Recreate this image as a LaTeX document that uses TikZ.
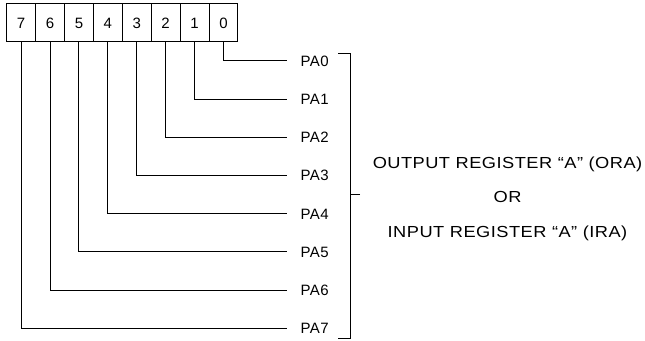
\documentclass[tikz,border=0pt]{standalone}
\usepackage{fontspec}
\setmainfont{Liberation Sans}[LetterSpace=3]
\newfontfamily\regfont{Liberation Sans}[LetterSpace=3, FakeStretch=1.14]
\usetikzlibrary{shapes,arrows}
\tikzstyle{bit} = [rectangle, draw, minimum width=28.9pt, minimum height=37.7pt,
    inner sep=0pt, text height=10.7pt, text depth=0pt, font=\fontsize{15}{17}\selectfont]
\tikzstyle{port} = [anchor=west, inner sep=2pt, text height=10.7pt, text depth=0pt,
    font=\fontsize{15}{17}\selectfont]
\tikzstyle{reg} = [inner sep=2pt, text height=11.5pt, text depth=3pt,
    font=\regfont\fontsize{16}{18}\selectfont]
\tikzstyle{line} = [draw]

\begin{document}
\begin{tikzpicture}[x=1pt, y=1pt, node distance=28.9pt, line width=1pt]
    \useasboundingbox (0,0) rectangle (645,340);
    % Place nodes
    \node [bit] (b7) at (21.15,317.15) {7};
    \node [bit, right of=b7] (b6) {6};
    \node [bit, right of=b6] (b5) {5};
    \node [bit, right of=b5] (b4) {4};
    \node [bit, right of=b4] (b3) {3};
    \node [bit, right of=b3] (b2) {2};
    \node [bit, right of=b2] (b1) {1};
    \node [bit, right of=b1] (b0) {0};
    \node [port] (pa0) at (298,279) {PA0};
    \node [port, below of=pa0, node distance=38.2pt] (pa1) {PA1};
    \node [port, below of=pa1, node distance=38.2pt] (pa2) {PA2};
    \node [port, below of=pa2, node distance=38.2pt] (pa3) {PA3};
    \node [port, below of=pa3, node distance=38.2pt] (pa4) {PA4};
    \node [port, below of=pa4, node distance=38.2pt] (pa5) {PA5};
    \node [port, below of=pa5, node distance=38.2pt] (pa6) {PA6};
    \node [port, below of=pa6, node distance=38.2pt] (pa7) {PA7};
    \node [reg] (ora) at (507.5,176.2) {OUTPUT REGISTER “A” (ORA)};
    \node [reg, below of=ora, node distance=34.5pt] (or) {OR};
    \node [reg, below of=or, node distance=34.5pt] (ira) {INPUT REGISTER “A” (IRA)};
    % Bracket
    \coordinate (brtop) at (338,286.7);
    \coordinate (brbot) at (338,2);
    \coordinate (brmid) at (360,145);
    \path [line] (brtop) -- ++(12,0) -- ++(0,-284.7) -- (brbot);
    \path [line] (brmid) -- ++(-10,0);
    % Draw edges
    \path [line] (b0.south) |- ([xshift=-11pt]pa0.west);
    \path [line] (b1.south) |- ([xshift=-11pt]pa1.west);
    \path [line] (b2.south) |- ([xshift=-11pt]pa2.west);
    \path [line] (b3.south) |- ([xshift=-11pt]pa3.west);
    \path [line] (b4.south) |- ([xshift=-11pt]pa4.west);
    \path [line] (b5.south) |- ([xshift=-11pt]pa5.west);
    \path [line] (b6.south) |- ([xshift=-11pt]pa6.west);
    \path [line] (b7.south) |- ([xshift=-11pt]pa7.west);
\end{tikzpicture}
\end{document}
